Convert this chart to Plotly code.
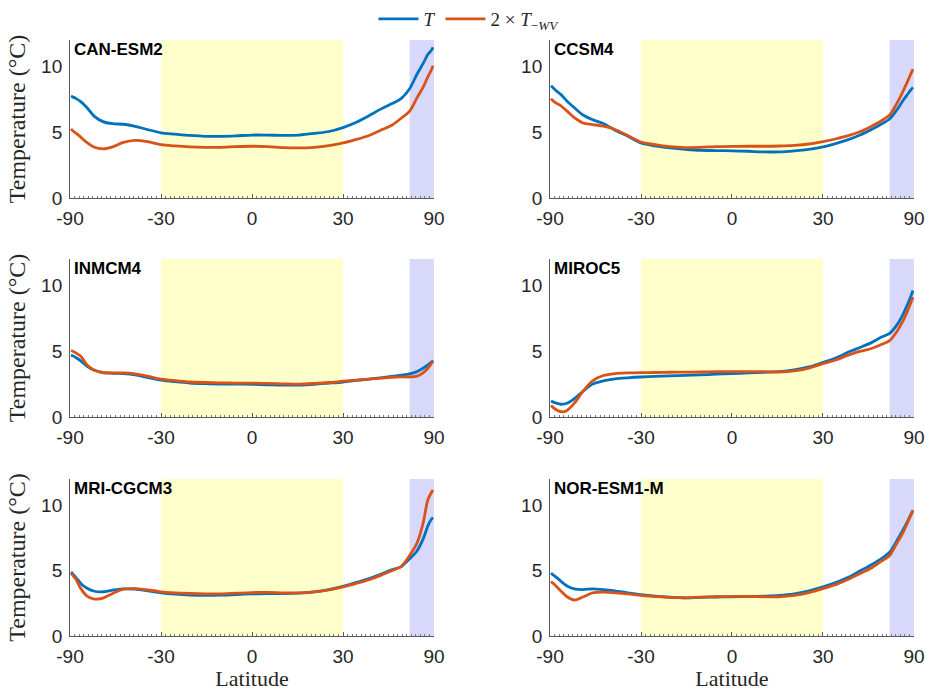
import numpy as np
import plotly.graph_objects as go

# Latitude grid (degrees) shared by every model profile
lat = [-84, -80, -75, -70, -65, -60, -55, -50, -45, -40, -35, -30, -25, -20, -15,
       -10, -5, 0, 5, 10, 15, 20, 25, 30, 35, 40, 45, 50, 55, 60, 65, 70, 75, 80, 84]

models = ["CAN-ESM2", "CCSM4", "INMCM4", "MIROC5", "MRI-CGCM3", "NOR-ESM1-M"]

# Total warming T (°C)
t_can = [7.75, 7.68, 7.55, 7.3, 6.85, 6.2, 5.8, 5.64, 5.6, 5.44, 5.2, 4.95, 4.85, 4.75, 4.68,
         4.68, 4.72, 4.78, 4.78, 4.75, 4.78, 4.9, 5.05, 5.35, 5.75, 6.25, 6.75, 7.15, 7.55,
         8.3, 9.4, 10.2, 10.9, 11.2, 11.45]
t_ccsm = [8.52, 8.4, 8.15, 7.85, 7.35, 6.85, 6.3, 5.95, 5.65, 5.15, 4.7, 4.18, 3.95, 3.8, 3.7,
          3.62, 3.6, 3.58, 3.55, 3.5, 3.5, 3.58, 3.7, 3.88, 4.15, 4.45, 4.8, 5.2, 5.6,
          6.0, 6.7, 7.4, 7.9, 8.25, 8.4]
t_inm = [4.68, 4.65, 4.5, 4.25, 3.85, 3.55, 3.38, 3.32, 3.29, 3.2, 3.0, 2.8, 2.68, 2.58, 2.53,
         2.5, 2.5, 2.48, 2.45, 2.42, 2.42, 2.48, 2.57, 2.66, 2.78, 2.88, 2.98, 3.08, 3.18,
         3.28, 3.45, 3.7, 3.95, 4.15, 4.3]
t_miroc = [1.22, 1.15, 1.05, 0.97, 1.05, 1.4, 1.95, 2.5, 2.75, 2.9, 2.98, 3.04, 3.08, 3.12, 3.16,
           3.2, 3.25, 3.3, 3.35, 3.4, 3.45, 3.58, 3.8, 4.15, 4.5, 4.95, 5.3, 5.65, 6.05,
           6.35, 7.0, 7.8, 8.6, 9.25, 9.6]
t_mri = [4.88, 4.75, 4.45, 4.0, 3.65, 3.42, 3.38, 3.5, 3.6, 3.58, 3.45, 3.3, 3.2, 3.13, 3.1,
         3.12, 3.17, 3.22, 3.25, 3.24, 3.28, 3.38, 3.55, 3.8, 4.1, 4.38, 4.72, 5.05, 5.3,
         5.9, 6.5, 7.4, 8.4, 8.9, 9.05]
t_nor = [4.8, 4.7, 4.5, 4.18, 3.82, 3.6, 3.55, 3.6, 3.55, 3.45, 3.3, 3.16, 3.05, 2.97, 2.92,
         2.95, 2.98, 3.0, 3.02, 3.05, 3.1, 3.22, 3.45, 3.75, 4.1, 4.5, 5.0, 5.45, 5.9,
         6.4, 7.3, 8.1, 8.8, 9.35, 9.6]

# Twice the warming without water-vapour feedback, 2 x T_-WV (°C)
wv_can = [5.25, 5.1, 4.9, 4.6, 4.2, 3.85, 3.73, 3.88, 4.22, 4.38, 4.28, 4.05, 3.95, 3.88, 3.85,
          3.85, 3.9, 3.93, 3.9, 3.82, 3.8, 3.85, 3.98, 4.18, 4.45, 4.75, 5.15, 5.5, 6.05,
          6.6, 7.6, 8.4, 9.2, 9.7, 10.05]
wv_ccsm = [7.55, 7.4, 7.2, 7.0, 6.6, 6.1, 5.7, 5.58, 5.45, 5.2, 4.75, 4.25, 4.05, 3.9, 3.83,
           3.85, 3.9, 3.92, 3.93, 3.93, 3.95, 4.0, 4.1, 4.28, 4.5, 4.75, 5.05, 5.45, 5.85,
           6.3, 7.2, 8.1, 8.9, 9.5, 9.8]
wv_inm = [5.05, 5.0, 4.85, 4.6, 3.95, 3.55, 3.38, 3.35, 3.35, 3.28, 3.1, 2.88, 2.76, 2.66, 2.62,
          2.6, 2.58, 2.58, 2.55, 2.52, 2.5, 2.55, 2.62, 2.72, 2.8, 2.88, 2.95, 3.02, 3.05,
          3.04, 3.1, 3.35, 3.7, 4.05, 4.25]
wv_miroc = [0.88, 0.75, 0.55, 0.4, 0.5, 1.05, 1.95, 2.75, 3.15, 3.3, 3.35, 3.37, 3.38, 3.4, 3.41,
            3.42, 3.44, 3.45, 3.45, 3.44, 3.42, 3.5, 3.72, 4.05, 4.35, 4.72, 5.0, 5.2, 5.5,
            5.8, 6.5, 7.3, 8.1, 8.75, 9.1]
wv_mri = [4.76, 4.65, 4.3, 3.6, 3.05, 2.82, 2.9, 3.25, 3.58, 3.62, 3.52, 3.38, 3.3, 3.25, 3.22,
          3.22, 3.27, 3.32, 3.33, 3.3, 3.3, 3.38, 3.52, 3.75, 4.02, 4.3, 4.63, 4.98, 5.3,
          6.15, 7.1, 8.6, 10.4, 10.95, 11.15]
wv_nor = [4.17, 4.05, 3.8, 3.42, 3.0, 2.75, 2.98, 3.3, 3.35, 3.3, 3.22, 3.1, 3.02, 2.95, 2.92,
          2.97, 3.0, 3.03, 3.02, 3.0, 3.0, 3.1, 3.32, 3.62, 3.95, 4.35, 4.8, 5.2, 5.7,
          6.15, 7.1, 7.9, 8.7, 9.3, 9.6]

t_series = [t_can, t_ccsm, t_inm, t_miroc, t_mri, t_nor]
wv_series = [wv_can, wv_ccsm, wv_inm, wv_miroc, wv_mri, wv_nor]

tick_lats = [-90, -30, 0, 30, 90]
tick_labels = ["-90", "-30", "0", "30", "90"]
tropics = [-30, 30]
polar = [60, 90]
y_ticks = [0, 5, 10]
y_range = [0, 12]

BLUE = "#0072BD"
ORANGE = "#D95319"
SANS = "Liberation Sans, Arial, Helvetica, sans-serif"
SERIF = "Liberation Serif, Times New Roman, serif"


def sinlat(v):
    # area-weighted latitude axis: plot against sin(latitude)
    return np.sin(np.radians(np.asarray(v, dtype=float)))


x_dom = [[0.0757, 0.4692], [0.5946, 0.9881]]
y_dom = [[0.7135, 0.9421], [0.3965, 0.6252], [0.0796, 0.3068]]

fig = go.Figure()
shapes = []
annotations = []
layout_axes = {}

for i, name in enumerate(models):
    r, c = divmod(i, 2)
    n = i + 1
    xa = "x" if n == 1 else f"x{n}"
    ya = "y" if n == 1 else f"y{n}"
    xkey = "xaxis" if n == 1 else f"xaxis{n}"
    ykey = "yaxis" if n == 1 else f"yaxis{n}"

    xs = sinlat(lat)
    fig.add_trace(go.Scatter(
        x=xs, y=t_series[i], mode="lines", xaxis=xa, yaxis=ya,
        line=dict(color=BLUE, width=2.8, shape="spline", smoothing=0.8),
        name="<i>T</i>", legendgroup="T", showlegend=(i == 0)))
    fig.add_trace(go.Scatter(
        x=xs, y=wv_series[i], mode="lines", xaxis=xa, yaxis=ya,
        line=dict(color=ORANGE, width=2.8, shape="spline", smoothing=0.8),
        name="2 × <i>T</i><sub>−<i>WV</i></sub>", legendgroup="WV", showlegend=(i == 0)))

    # shaded tropical and polar bands
    for band, col in ((tropics, "rgb(255,255,204)"), (polar, "rgb(216,216,250)")):
        b = sinlat(band)
        shapes.append(dict(type="rect", xref=xa, yref=f"{ya} domain",
                           x0=b[0], x1=b[1], y0=0, y1=1, fillcolor=col,
                           line=dict(width=0), layer="below"))

    annotations.append(dict(text=f"<b>{name}</b>", xref=f"{xa} domain", yref=f"{ya} domain",
                            x=0.006, y=1.01, xanchor="left", yanchor="top", showarrow=False,
                            font=dict(family=SANS, size=17, color="black")))

    xaxis = dict(
        domain=x_dom[c], anchor=ya, range=[-1, 1], showgrid=False, zeroline=False,
        automargin=False,
        showline=True, linecolor="#5a5a5a", linewidth=1,
        tickmode="array", tickvals=list(sinlat(tick_lats)), ticktext=tick_labels,
        ticks="inside", ticklen=4, tickcolor="#5a5a5a", ticklabelstandoff=3,
        minor=dict(ticks="inside", ticklen=2, dtick=0.025, tick0=0, tickcolor="#7a7a7a"),
        tickfont=dict(family=SANS, size=19, color="#262626"),
    )
    if r == 2:
        xaxis["title"] = dict(text="Latitude",
                              font=dict(family=SERIF, size=22, color="#262626"), standoff=10)
    yaxis = dict(
        domain=y_dom[r], anchor=xa, range=y_range, showgrid=False, zeroline=False,
        automargin=False,
        showline=True, linecolor="#5a5a5a", linewidth=1,
        tickmode="array", tickvals=y_ticks, ticks="", ticklabelstandoff=3,
        tickfont=dict(family=SANS, size=19, color="#262626"),
    )
    if c == 0:
        yaxis["title"] = dict(text="Temperature (°C)",
                              font=dict(family=SERIF, size=24, color="#262626"), standoff=8)
    layout_axes[xkey] = xaxis
    layout_axes[ykey] = yaxis

fig.update_layout(
    width=925, height=691,
    margin=dict(l=0, r=0, t=0, b=0),
    paper_bgcolor="white", plot_bgcolor="rgba(0,0,0,0)",
    shapes=shapes, annotations=annotations,
    legend=dict(orientation="h", x=0.507, xanchor="center", y=1.0, yanchor="top",
                font=dict(family=SERIF, size=19, color="#262626"),
                bgcolor="rgba(0,0,0,0)", itemwidth=40),
    **layout_axes,
)

fig.write_html("out.html")
